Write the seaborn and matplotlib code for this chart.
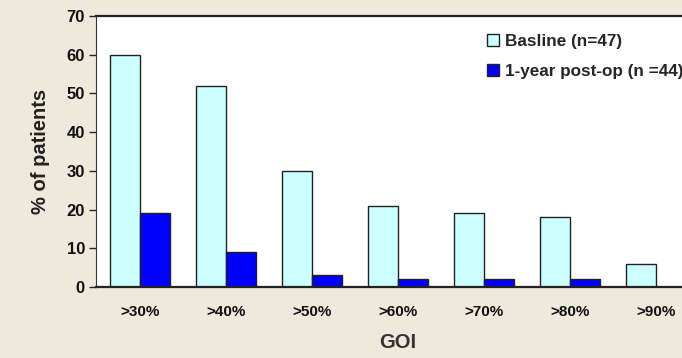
import matplotlib
matplotlib.use("Agg")
import matplotlib.pyplot as plt
import seaborn as sns
import pandas as pd
from matplotlib.patches import Patch

categories = [">30%", ">40%", ">50%", ">60%", ">70%", ">80%", ">90%"]
baseline = [60, 52, 30, 21, 19, 18, 6]
postop = [19, 9, 3, 2, 2, 2, 0]
series_names = ["Basline (n=47)", "1-year post-op (n =44)"]
yticks = [0, 10, 20, 30, 40, 50, 60, 70]

df = pd.DataFrame({
    "GOI": categories * 2,
    "value": baseline + postop,
    "series": [series_names[0]] * len(categories) + [series_names[1]] * len(categories),
})

sns.set_theme(style="white")
plt.rcParams['font.family'] = ['Liberation Sans', 'DejaVu Sans']

colors = ["#ccffff", "#0000ff"]

fig = plt.figure(figsize=(6.82, 3.58), dpi=100)
fig.patch.set_facecolor("#efe9dc")
ax = fig.add_axes([96/682, 1-287/358, (699-96)/682, (287-16)/358])
ax.set_facecolor("white")

sns.barplot(data=df, x="GOI", y="value", hue="series", palette=colors,
            width=0.7, edgecolor="#222222", linewidth=1.0, ax=ax, legend=False,
            saturation=1)

ax.set_xlim(-0.51, 6.5)
ax.set_ylim(0, 70)
ax.set_yticks(yticks)
ax.set_yticklabels([str(t) for t in yticks], fontsize=12, fontweight="bold", color="#111111")
ax.set_xticks(range(len(categories)))
ax.set_xticklabels(categories, fontsize=11, fontweight="bold", color="#111111")
ax.tick_params(axis="x", length=0, pad=13)
ax.tick_params(axis="y", length=5, width=1, color="#222222", direction="out", left=True, pad=3)

ax.spines["right"].set_visible(False)
ax.spines["left"].set_color("#333333")
ax.spines["left"].set_linewidth(0.8)
for s in ["top", "bottom"]:
    ax.spines[s].set_color("#222222")
    ax.spines[s].set_linewidth(1.6)

ax.set_xlabel("GOI", fontsize=14.5, fontweight="bold", color="#333333", labelpad=10)
ax.set_ylabel("% of patients", fontsize=14.5, fontweight="bold", color="#222222", labelpad=12)

handles = [Patch(facecolor=colors[i], edgecolor="#222222", linewidth=1.0) for i in range(2)]
fig.legend(handles, series_names, loc="upper left", bbox_to_anchor=(480/682, 1-27/358),
           frameon=False, prop={"weight": "bold", "size": 12.3}, handlelength=0.7,
           handleheight=0.7, handletextpad=0.35, labelspacing=0.9, borderaxespad=0)

fig.savefig("out.png", dpi=100, facecolor=fig.get_facecolor())
